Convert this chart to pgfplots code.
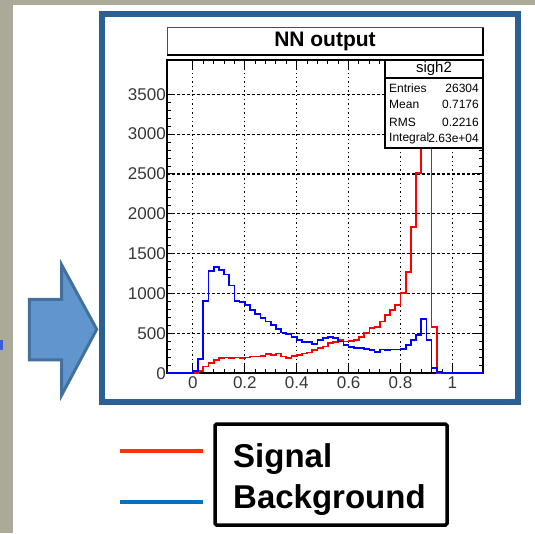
\documentclass[border=0pt]{standalone}
\usepackage{fontspec}
\setmainfont{Liberation Sans}
\usepackage{pgfplots}
\pgfplotsset{compat=1.18}
\definecolor{beige}{RGB}{171,169,151}
\definecolor{frameblue}{RGB}{44,95,148}
\definecolor{arrowfill}{RGB}{96,150,205}
\definecolor{arrowedge}{RGB}{65,113,156}
\definecolor{legred}{RGB}{255,51,0}
\definecolor{legblue}{RGB}{0,112,192}
\definecolor{smallblue}{RGB}{60,90,220}
\pgfplotstableread{
x y
-0.10 0
0.02 25
0.04 84
0.06 125
0.08 167
0.10 188
0.12 200
0.14 188
0.16 200
0.18 190
0.20 200
0.22 209
0.24 209
0.26 220
0.28 238
0.30 230
0.32 250
0.34 209
0.36 188
0.38 220
0.40 230
0.42 250
0.44 260
0.46 293
0.48 314
0.50 335
0.52 376
0.54 397
0.56 418
0.58 400
0.60 405
0.62 420
0.64 452
0.66 502
0.68 564
0.70 580
0.72 650
0.74 730
0.76 794
0.78 857
0.80 1011
0.82 1275
0.84 1835
0.86 2510
0.88 2900
0.90 3740
0.92 577
0.94 0
1.118 0
}\sigtable
\pgfplotstableread{
x y
-0.10 0
0.00 25
0.02 179
0.04 907
0.06 1287
0.08 1337
0.10 1300
0.12 1240
0.14 1100
0.16 907
0.18 890
0.20 860
0.22 790
0.24 740
0.26 690
0.28 648
0.30 606
0.32 552
0.34 510
0.36 489
0.38 459
0.40 418
0.42 397
0.44 397
0.46 368
0.48 418
0.50 439
0.52 459
0.54 439
0.56 400
0.58 355
0.60 326
0.62 320
0.64 313
0.66 305
0.68 295
0.70 271
0.72 300
0.74 292
0.76 300
0.78 300
0.80 305
0.82 355
0.84 418
0.86 480
0.88 677
0.90 418
0.92 63
0.94 20
0.96 0
1.118 0
}\bkgtable
\begin{document}
\begin{tikzpicture}
\useasboundingbox (0pt,0pt) rectangle (535pt,533pt);
\fill[white] (0pt,0pt) rectangle (535pt,533pt);
\fill[beige] (0pt,0pt) rectangle (13pt,533pt);
\fill[beige] (0pt,528pt) rectangle (535pt,533pt);
\fill[smallblue] (0pt,183pt) rectangle (2.7pt,193pt);
% arrow
\draw[arrowedge, fill=arrowfill, line width=3pt, line join=miter]
 (29.3pt,233.7pt) -- (61.7pt,233.7pt) -- (61.7pt,268pt) -- (96.7pt,203.7pt)
 -- (61.7pt,138pt) -- (61.7pt,173pt) -- (29.3pt,173pt) -- cycle;
% blue frame
\draw[frameblue, line width=6pt] (101.5pt,131pt) rectangle (517.5pt,519pt);
% title box
\draw[black!70, line width=1pt] (167pt,478pt) rectangle (483pt,505pt);
\draw[black, line width=2.2pt] (167pt,478pt) -- (483pt,478pt) -- (483pt,505pt);
\node[font=\fontsize{21}{21}\selectfont\bfseries] at (325pt,491.5pt) {NN output};
\begin{axis}[
  at={(167pt,159.7pt)}, anchor=south west,
  scale only axis, width=316pt, height=313.3pt,
  xmin=-0.1, xmax=1.118, ymin=0, ymax=3930,
  xtick={0,0.2,0.4,0.6,0.8,1},
  ytick={0,500,1000,1500,2000,2500,3000,3500},
  minor x tick num=4, minor y tick num=4,
  major tick length=8pt, minor tick length=4pt,
  every tick/.style={black, line width=1pt},
  axis line style={black, line width=2.2pt},
  xmajorgrids, ymajorgrids,
  major x grid style={black, line width=1.1pt, dash pattern=on 1.4pt off 3pt},
  major y grid style={black, line width=1.1pt, dash pattern=on 2.6pt off 2.4pt},
  scaled y ticks=false, scaled x ticks=false,
  /pgf/number format/assume math mode=true,
  /pgf/number format/1000 sep={},
  tick label style={font=\fontsize{17}{17}\selectfont, text=black!78},
  yticklabel style={inner xsep=1pt},
  xticklabel style={inner ysep=3pt},
]
\addplot[const plot, red, line width=1.7pt] table[x=x,y=y] {\sigtable};
\addplot[const plot, blue, line width=1.7pt] table[x=x,y=y] {\bkgtable};
\end{axis}
% stats box
\fill[white] (385pt,385pt) rectangle (483pt,473pt);
\draw[black, line width=1.2pt] (385pt,385pt) rectangle (483pt,473pt);
\draw[black, line width=2.4pt] (385pt,385pt) -- (483pt,385pt) -- (483pt,473pt);
\draw[black, line width=1.2pt] (385pt,455pt) -- (483pt,455pt);
\node[font=\fontsize{15}{15}\selectfont] at (434pt,464pt) {sigh2};
\begin{scope}[every node/.style={font=\fontsize{12}{12}\selectfont, inner sep=0pt}]
\node[anchor=west] at (389pt,445pt) {Entries};
\node[anchor=east] at (479pt,445pt) {26304};
\node[anchor=west] at (389pt,429pt) {Mean};
\node[anchor=east] at (479pt,429pt) {0.7176};
\node[anchor=west] at (389pt,411pt) {RMS};
\node[anchor=east] at (479pt,411pt) {0.2216};
\node[anchor=west] at (389pt,395pt) {Integral};
\node[anchor=east] at (479pt,395pt) {2.63e+04};
\end{scope}
% legend
\draw[legred, line width=4.5pt] (120pt,82pt) -- (203pt,82pt);
\draw[legblue, line width=4.5pt] (120pt,31pt) -- (203pt,31pt);
\draw[black, line width=3.5pt, rounded corners=1.5pt] (215pt,8pt) rectangle (447pt,109pt);
\node[anchor=base west, inner sep=0pt, font=\fontsize{33}{33}\selectfont\bfseries] at (233pt,66pt) {Signal};
\node[anchor=base west, inner sep=0pt, font=\fontsize{33}{33}\selectfont\bfseries] at (233pt,25pt) {Background};
\end{tikzpicture}
\end{document}
